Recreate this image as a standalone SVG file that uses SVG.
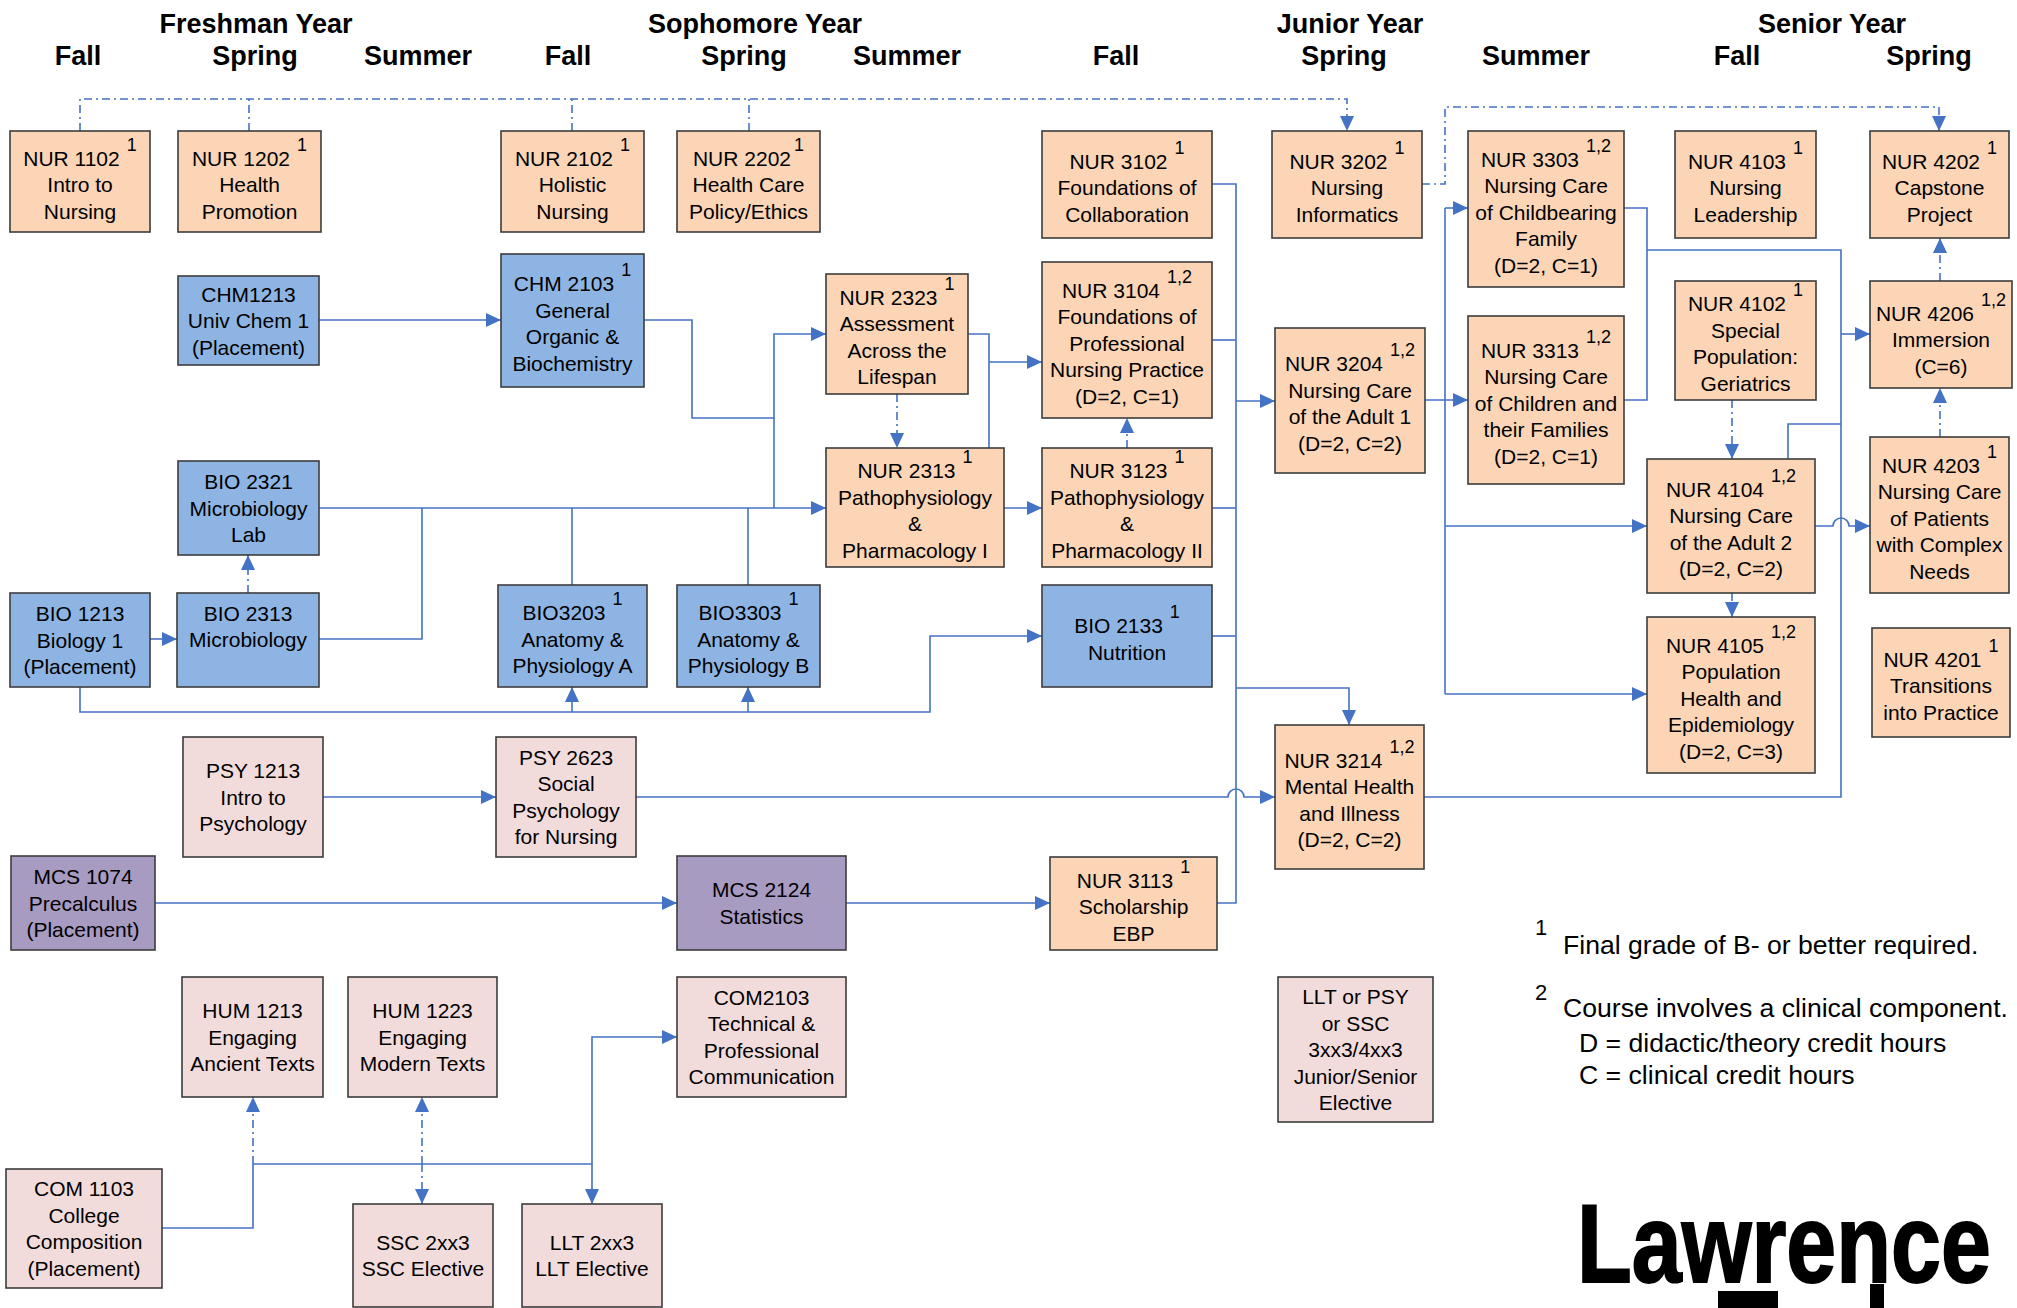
<svg xmlns="http://www.w3.org/2000/svg" width="2017" height="1308" viewBox="0 0 2017 1308">
<style>
.bx{stroke:#3c3c3c;stroke-width:1.6}
.nur{fill:#FBD5B5}.bio{fill:#8EB4E3}.gen{fill:#F2DCDB}.mcs{fill:#A89BC2}
text{font-family:"Liberation Sans",Arial,sans-serif;fill:#000}
.t{font-size:21px;text-anchor:middle}
.s{font-size:18px}
.h{font-size:27px;font-weight:bold;text-anchor:middle}
.fn{font-size:26.6px}
.fs{font-size:22px}
.c{fill:none;stroke:#4472C4;stroke-width:1.6}
.d{stroke-dasharray:8 4 2 4}
</style>
<defs>
<marker id="a" markerUnits="userSpaceOnUse" markerWidth="15" markerHeight="14" refX="15" refY="7" orient="auto">
<path d="M0,0L15,7L0,14Z" fill="#4472C4"/>
</marker>
</defs>
<rect width="2017" height="1308" fill="#fff"/>

<g id="headers">
<text class="h" x="256" y="33">Freshman Year</text>
<text class="h" x="755" y="33">Sophomore Year</text>
<text class="h" x="1350" y="33">Junior Year</text>
<text class="h" x="1832" y="33">Senior Year</text>
<text class="h" x="78" y="65">Fall</text>
<text class="h" x="255" y="65">Spring</text>
<text class="h" x="418" y="65">Summer</text>
<text class="h" x="568" y="65">Fall</text>
<text class="h" x="744" y="65">Spring</text>
<text class="h" x="907" y="65">Summer</text>
<text class="h" x="1116" y="65">Fall</text>
<text class="h" x="1344" y="65">Spring</text>
<text class="h" x="1536" y="65">Summer</text>
<text class="h" x="1737" y="65">Fall</text>
<text class="h" x="1929" y="65">Spring</text>
</g>

<g id="connectors">
<path class="c d" d="M80,131V99H1347V131" marker-end="url(#a)"/>
<path class="c d" d="M249,131V99"/>
<path class="c d" d="M572,131V99"/>
<path class="c d" d="M749,131V99"/>
<path class="c d" d="M1422,184H1445V107H1939V131" marker-end="url(#a)"/>
<path class="c d" d="M897,394V448" marker-end="url(#a)"/>
<path class="c d" d="M1127,448V418" marker-end="url(#a)"/>
<path class="c d" d="M248,593V555" marker-end="url(#a)"/>
<path class="c d" d="M1732,400V459" marker-end="url(#a)"/>
<path class="c d" d="M1732,593V617" marker-end="url(#a)"/>
<path class="c d" d="M1940,281V238" marker-end="url(#a)"/>
<path class="c d" d="M1940,437V388" marker-end="url(#a)"/>
<path class="c d" d="M253,1164V1097" marker-end="url(#a)"/>
<path class="c d" d="M422,1164V1097" marker-end="url(#a)"/>
<path class="c d" d="M422,1164V1204" marker-end="url(#a)"/>

<path class="c" d="M319,320H501" marker-end="url(#a)"/>
<path class="c" d="M644,320H692V418H774V334H826" marker-end="url(#a)"/>
<path class="c" d="M774,418V508"/>
<path class="c" d="M319,508H826" marker-end="url(#a)"/>
<path class="c" d="M319,639H422V508"/>
<path class="c" d="M150,639H177" marker-end="url(#a)"/>
<path class="c" d="M572,585V508"/>
<path class="c" d="M748,585V508"/>
<path class="c" d="M80,687V712H930V636H1042" marker-end="url(#a)"/>
<path class="c" d="M572,712V687" marker-end="url(#a)"/>
<path class="c" d="M748,712V687" marker-end="url(#a)"/>
<path class="c" d="M968,334H989V448"/>
<path class="c" d="M989,362H1042" marker-end="url(#a)"/>
<path class="c" d="M1004,508H1042" marker-end="url(#a)"/>
<path class="c" d="M1212,184H1236V903H1217"/>
<path class="c" d="M1212,340H1236"/>
<path class="c" d="M1212,508H1236"/>
<path class="c" d="M1212,636H1236"/>
<path class="c" d="M1236,401H1275" marker-end="url(#a)"/>
<path class="c" d="M1236,688H1349V725" marker-end="url(#a)"/>
<path class="c" d="M323,797H496" marker-end="url(#a)"/>
<path class="c" d="M636,797H1228A8,8 0 0 1 1244,797H1275" marker-end="url(#a)"/>
<path class="c" d="M155,903H677" marker-end="url(#a)"/>
<path class="c" d="M846,903H1050" marker-end="url(#a)"/>
<path class="c" d="M1425,400H1468" marker-end="url(#a)"/>
<path class="c" d="M1445,208V694"/>
<path class="c" d="M1445,208H1468" marker-end="url(#a)"/>
<path class="c" d="M1445,526H1647" marker-end="url(#a)"/>
<path class="c" d="M1445,694H1647" marker-end="url(#a)"/>
<path class="c" d="M1624,208H1647V400H1624"/>
<path class="c" d="M1647,250H1841V797H1424"/>
<path class="c" d="M1841,334H1870" marker-end="url(#a)"/>
<path class="c" d="M1788,459V424H1841"/>
<path class="c" d="M1815,526H1833A8,8 0 0 1 1849,526H1870" marker-end="url(#a)"/>
<path class="c" d="M253,1164V1228H162"/>
<path class="c" d="M253,1164H592V1204" marker-end="url(#a)"/>
<path class="c" d="M592,1164V1037H677" marker-end="url(#a)"/>
</g>

<g id="nur1102"><rect class="bx nur" x="10" y="131" width="140" height="101"/><text class="t"><tspan x="80" y="165.5">NUR 1102<tspan class="s" dx="7" dy="-15">1</tspan></tspan><tspan x="80" y="192">Intro to</tspan><tspan x="80" y="218.5">Nursing</tspan></text></g>
<g id="nur1202"><rect class="bx nur" x="178" y="131" width="143" height="101"/><text class="t"><tspan x="249.5" y="165.5">NUR 1202<tspan class="s" dx="7" dy="-15">1</tspan></tspan><tspan x="249.5" y="192">Health</tspan><tspan x="249.5" y="218.5">Promotion</tspan></text></g>
<g id="nur2102"><rect class="bx nur" x="501" y="131" width="143" height="101"/><text class="t"><tspan x="572.5" y="165.5">NUR 2102<tspan class="s" dx="7" dy="-15">1</tspan></tspan><tspan x="572.5" y="192">Holistic</tspan><tspan x="572.5" y="218.5">Nursing</tspan></text></g>
<g id="nur2202"><rect class="bx nur" x="677" y="131" width="143" height="101"/><text class="t"><tspan x="748.5" y="165.5">NUR 2202<tspan class="s" dx="3" dy="-15">1</tspan></tspan><tspan x="748.5" y="192">Health Care</tspan><tspan x="748.5" y="218.5">Policy/Ethics</tspan></text></g>
<g id="nur3102"><rect class="bx nur" x="1042" y="131" width="170" height="107"/><text class="t"><tspan x="1127" y="168.5">NUR 3102<tspan class="s" dx="7" dy="-15">1</tspan></tspan><tspan x="1127" y="195">Foundations of</tspan><tspan x="1127" y="221.5">Collaboration</tspan></text></g>
<g id="nur3202"><rect class="bx nur" x="1272" y="131" width="150" height="107"/><text class="t"><tspan x="1347" y="168.5">NUR 3202<tspan class="s" dx="7" dy="-15">1</tspan></tspan><tspan x="1347" y="195">Nursing</tspan><tspan x="1347" y="221.5">Informatics</tspan></text></g>
<g id="nur3303"><rect class="bx nur" x="1468" y="131" width="156" height="156"/><text class="t"><tspan x="1546" y="166.5">NUR 3303<tspan class="s" dx="7" dy="-15">1,2</tspan></tspan><tspan x="1546" y="193">Nursing Care</tspan><tspan x="1546" y="219.5">of Childbearing</tspan><tspan x="1546" y="246">Family</tspan><tspan x="1546" y="272.5">(D=2, C=1)</tspan></text></g>
<g id="nur4103"><rect class="bx nur" x="1675" y="131" width="141" height="107"/><text class="t"><tspan x="1745.5" y="168.5">NUR 4103<tspan class="s" dx="7" dy="-15">1</tspan></tspan><tspan x="1745.5" y="195">Nursing</tspan><tspan x="1745.5" y="221.5">Leadership</tspan></text></g>
<g id="nur4202"><rect class="bx nur" x="1870" y="131" width="139" height="107"/><text class="t"><tspan x="1939.5" y="168.5">NUR 4202<tspan class="s" dx="7" dy="-15">1</tspan></tspan><tspan x="1939.5" y="195">Capstone</tspan><tspan x="1939.5" y="221.5">Project</tspan></text></g>

<g id="chm1213"><rect class="bx bio" x="178" y="276" width="141" height="89"/><text class="t"><tspan x="248.5" y="301.5">CHM1213</tspan><tspan x="248.5" y="328">Univ Chem 1</tspan><tspan x="248.5" y="354.5">(Placement)</tspan></text></g>
<g id="chm2103"><rect class="bx bio" x="501" y="254" width="143" height="133"/><text class="t"><tspan x="572.5" y="291.25">CHM 2103<tspan class="s" dx="7" dy="-15">1</tspan></tspan><tspan x="572.5" y="317.75">General</tspan><tspan x="572.5" y="344.25">Organic &amp;</tspan><tspan x="572.5" y="370.75">Biochemistry</tspan></text></g>
<g id="nur2323"><rect class="bx nur" x="826" y="274" width="142" height="120"/><text class="t"><tspan x="897" y="304.75">NUR 2323<tspan class="s" dx="7" dy="-15">1</tspan></tspan><tspan x="897" y="331.25">Assessment</tspan><tspan x="897" y="357.75">Across the</tspan><tspan x="897" y="384.25">Lifespan</tspan></text></g>
<g id="nur3104"><rect class="bx nur" x="1042" y="262" width="170" height="156"/><text class="t"><tspan x="1127" y="297.5">NUR 3104<tspan class="s" dx="7" dy="-15">1,2</tspan></tspan><tspan x="1127" y="324">Foundations of</tspan><tspan x="1127" y="350.5">Professional</tspan><tspan x="1127" y="377">Nursing Practice</tspan><tspan x="1127" y="403.5">(D=2, C=1)</tspan></text></g>
<g id="nur3204"><rect class="bx nur" x="1275" y="328" width="150" height="145"/><text class="t"><tspan x="1350" y="371.25">NUR 3204<tspan class="s" dx="7" dy="-15">1,2</tspan></tspan><tspan x="1350" y="397.75">Nursing Care</tspan><tspan x="1350" y="424.25">of the Adult 1</tspan><tspan x="1350" y="450.75">(D=2, C=2)</tspan></text></g>
<g id="nur3313"><rect class="bx nur" x="1468" y="316" width="156" height="168"/><text class="t"><tspan x="1546" y="357.5">NUR 3313<tspan class="s" dx="7" dy="-15">1,2</tspan></tspan><tspan x="1546" y="384">Nursing Care</tspan><tspan x="1546" y="410.5">of Children and</tspan><tspan x="1546" y="437">their Families</tspan><tspan x="1546" y="463.5">(D=2, C=1)</tspan></text></g>
<g id="nur4102"><rect class="bx nur" x="1675" y="281" width="141" height="119"/><text class="t"><tspan x="1745.5" y="311.25">NUR 4102<tspan class="s" dx="7" dy="-15">1</tspan></tspan><tspan x="1745.5" y="337.75">Special</tspan><tspan x="1745.5" y="364.25">Population:</tspan><tspan x="1745.5" y="390.75">Geriatrics</tspan></text></g>
<g id="nur4206"><rect class="bx nur" x="1870" y="281" width="142" height="107"/><text class="t"><tspan x="1941" y="320.5">NUR 4206<tspan class="s" dx="7" dy="-15">1,2</tspan></tspan><tspan x="1941" y="347">Immersion</tspan><tspan x="1941" y="373.5">(C=6)</tspan></text></g>

<g id="bio2321"><rect class="bx bio" x="178" y="461" width="141" height="94"/><text class="t"><tspan x="248.5" y="489">BIO 2321</tspan><tspan x="248.5" y="515.5">Microbiology</tspan><tspan x="248.5" y="542">Lab</tspan></text></g>
<g id="nur2313"><rect class="bx nur" x="826" y="448" width="178" height="119"/><text class="t"><tspan x="915" y="478.25">NUR 2313<tspan class="s" dx="7" dy="-15">1</tspan></tspan><tspan x="915" y="504.75">Pathophysiology</tspan><tspan x="915" y="531.25">&amp;</tspan><tspan x="915" y="557.75">Pharmacology I</tspan></text></g>
<g id="nur3123"><rect class="bx nur" x="1042" y="448" width="170" height="119"/><text class="t"><tspan x="1127" y="478.25">NUR 3123<tspan class="s" dx="7" dy="-15">1</tspan></tspan><tspan x="1127" y="504.75">Pathophysiology</tspan><tspan x="1127" y="531.25">&amp;</tspan><tspan x="1127" y="557.75">Pharmacology II</tspan></text></g>
<g id="nur4104"><rect class="bx nur" x="1647" y="459" width="168" height="134"/><text class="t"><tspan x="1731" y="496.75">NUR 4104<tspan class="s" dx="7" dy="-15">1,2</tspan></tspan><tspan x="1731" y="523.25">Nursing Care</tspan><tspan x="1731" y="549.75">of the Adult 2</tspan><tspan x="1731" y="576.25">(D=2, C=2)</tspan></text></g>
<g id="nur4203"><rect class="bx nur" x="1870" y="437" width="139" height="156"/><text class="t"><tspan x="1939.5" y="472.5">NUR 4203<tspan class="s" dx="7" dy="-15">1</tspan></tspan><tspan x="1939.5" y="499">Nursing Care</tspan><tspan x="1939.5" y="525.5">of Patients</tspan><tspan x="1939.5" y="552">with Complex</tspan><tspan x="1939.5" y="578.5">Needs</tspan></text></g>

<g id="bio1213"><rect class="bx bio" x="10" y="593" width="140" height="94"/><text class="t"><tspan x="80" y="621">BIO 1213</tspan><tspan x="80" y="647.5">Biology 1</tspan><tspan x="80" y="674">(Placement)</tspan></text></g>
<g id="bio2313"><rect class="bx bio" x="177" y="593" width="142" height="94"/><text class="t"><tspan x="248" y="620.5">BIO 2313</tspan><tspan x="248" y="646.5">Microbiology</tspan></text></g>
<g id="bio3203"><rect class="bx bio" x="498" y="585" width="149" height="102"/><text class="t"><tspan x="572.5" y="620">BIO3203<tspan class="s" dx="7" dy="-15">1</tspan></tspan><tspan x="572.5" y="646.5">Anatomy &amp;</tspan><tspan x="572.5" y="673">Physiology A</tspan></text></g>
<g id="bio3303"><rect class="bx bio" x="677" y="585" width="143" height="102"/><text class="t"><tspan x="748.5" y="620">BIO3303<tspan class="s" dx="7" dy="-15">1</tspan></tspan><tspan x="748.5" y="646.5">Anatomy &amp;</tspan><tspan x="748.5" y="673">Physiology B</tspan></text></g>
<g id="bio2133"><rect class="bx bio" x="1042" y="585" width="170" height="102"/><text class="t"><tspan x="1127" y="633.25">BIO 2133<tspan class="s" dx="7" dy="-15">1</tspan></tspan><tspan x="1127" y="659.75">Nutrition</tspan></text></g>
<g id="nur4105"><rect class="bx nur" x="1647" y="617" width="168" height="156"/><text class="t"><tspan x="1731" y="652.5">NUR 4105<tspan class="s" dx="7" dy="-15">1,2</tspan></tspan><tspan x="1731" y="679">Population</tspan><tspan x="1731" y="705.5">Health and</tspan><tspan x="1731" y="732">Epidemiology</tspan><tspan x="1731" y="758.5">(D=2, C=3)</tspan></text></g>
<g id="nur4201"><rect class="bx nur" x="1872" y="628" width="138" height="109"/><text class="t"><tspan x="1941" y="666.5">NUR 4201<tspan class="s" dx="7" dy="-15">1</tspan></tspan><tspan x="1941" y="693">Transitions</tspan><tspan x="1941" y="719.5">into Practice</tspan></text></g>

<g id="psy1213"><rect class="bx gen" x="183" y="737" width="140" height="120"/><text class="t"><tspan x="253" y="778">PSY 1213</tspan><tspan x="253" y="804.5">Intro to</tspan><tspan x="253" y="831">Psychology</tspan></text></g>
<g id="psy2623"><rect class="bx gen" x="496" y="737" width="140" height="120"/><text class="t"><tspan x="566" y="764.75">PSY 2623</tspan><tspan x="566" y="791.25">Social</tspan><tspan x="566" y="817.75">Psychology</tspan><tspan x="566" y="844.25">for Nursing</tspan></text></g>
<g id="nur3214"><rect class="bx nur" x="1275" y="725" width="149" height="144"/><text class="t"><tspan x="1349.5" y="767.75">NUR 3214<tspan class="s" dx="7" dy="-15">1,2</tspan></tspan><tspan x="1349.5" y="794.25">Mental Health</tspan><tspan x="1349.5" y="820.75">and Illness</tspan><tspan x="1349.5" y="847.25">(D=2, C=2)</tspan></text></g>

<g id="mcs1074"><rect class="bx mcs" x="11" y="856" width="144" height="94"/><text class="t"><tspan x="83" y="884">MCS 1074</tspan><tspan x="83" y="910.5">Precalculus</tspan><tspan x="83" y="937">(Placement)</tspan></text></g>
<g id="mcs2124"><rect class="bx mcs" x="677" y="856" width="169" height="94"/><text class="t"><tspan x="761.5" y="897.25">MCS 2124</tspan><tspan x="761.5" y="923.75">Statistics</tspan></text></g>
<g id="nur3113"><rect class="bx nur" x="1050" y="857" width="167" height="93"/><text class="t"><tspan x="1133.5" y="887.5">NUR 3113<tspan class="s" dx="7" dy="-15">1</tspan></tspan><tspan x="1133.5" y="914">Scholarship</tspan><tspan x="1133.5" y="940.5">EBP</tspan></text></g>

<g id="hum1213"><rect class="bx gen" x="182" y="977" width="141" height="120"/><text class="t"><tspan x="252.5" y="1018">HUM 1213</tspan><tspan x="252.5" y="1044.5">Engaging</tspan><tspan x="252.5" y="1071">Ancient Texts</tspan></text></g>
<g id="hum1223"><rect class="bx gen" x="348" y="977" width="149" height="120"/><text class="t"><tspan x="422.5" y="1018">HUM 1223</tspan><tspan x="422.5" y="1044.5">Engaging</tspan><tspan x="422.5" y="1071">Modern Texts</tspan></text></g>
<g id="com2103"><rect class="bx gen" x="677" y="977" width="169" height="120"/><text class="t"><tspan x="761.5" y="1004.75">COM2103</tspan><tspan x="761.5" y="1031.25">Technical &amp;</tspan><tspan x="761.5" y="1057.75">Professional</tspan><tspan x="761.5" y="1084.25">Communication</tspan></text></g>
<g id="elective"><rect class="bx gen" x="1278" y="977" width="155" height="145"/><text class="t"><tspan x="1355.5" y="1004">LLT or PSY</tspan><tspan x="1355.5" y="1030.5">or SSC</tspan><tspan x="1355.5" y="1057">3xx3/4xx3</tspan><tspan x="1355.5" y="1083.5">Junior/Senior</tspan><tspan x="1355.5" y="1110">Elective</tspan></text></g>

<g id="com1103"><rect class="bx gen" x="6" y="1169" width="156" height="119"/><text class="t"><tspan x="84" y="1196.25">COM 1103</tspan><tspan x="84" y="1222.75">College</tspan><tspan x="84" y="1249.25">Composition</tspan><tspan x="84" y="1275.75">(Placement)</tspan></text></g>
<g id="ssc2xx3"><rect class="bx gen" x="353" y="1204" width="140" height="103"/><text class="t"><tspan x="423" y="1249.5">SSC 2xx3</tspan><tspan x="423" y="1276">SSC Elective</tspan></text></g>
<g id="llt2xx3"><rect class="bx gen" x="522" y="1204" width="140" height="103"/><text class="t"><tspan x="592" y="1249.5">LLT 2xx3</tspan><tspan x="592" y="1276">LLT Elective</tspan></text></g>

<g id="footnotes">
<text class="fs" x="1535" y="935">1</text>
<text class="fn" x="1563" y="954">Final grade of B- or better required.</text>
<text class="fs" x="1535" y="1000">2</text>
<text class="fn" x="1563" y="1017">Course involves a clinical component.</text>
<text class="fn" x="1579" y="1052">D = didactic/theory credit hours</text>
<text class="fn" x="1579" y="1084">C = clinical credit hours</text>
</g>

<g id="logo">
<rect x="1718" y="1291" width="60" height="17" fill="#000"/>
<rect x="1870" y="1284" width="14" height="24" fill="#000"/>
<text x="0" y="0" transform="matrix(0.801 0 0 1 1577 1282)" font-size="112" font-weight="bold" stroke="#000" stroke-width="2">Lawrence</text>
</g>
</svg>
